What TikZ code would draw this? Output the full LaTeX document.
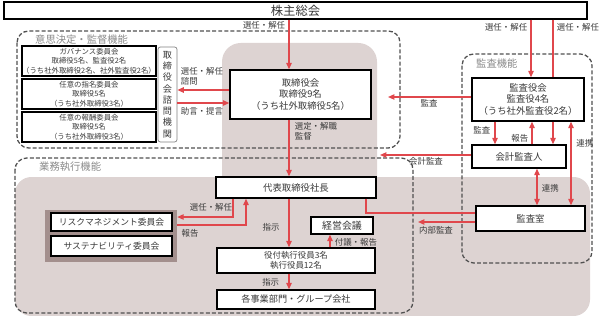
\documentclass[tikz,border=0pt]{standalone}
\usepackage{fontspec}
\setmainfont{Noto Sans CJK JP}
\usetikzlibrary{arrows.meta, positioning, calc}
\definecolor{redline}{HTML}{E0474C}
\definecolor{bgtaupe}{HTML}{DDD3D2}
\definecolor{dktaupe}{HTML}{A38F8D}
\definecolor{dashgray}{HTML}{505050}
\definecolor{lblgray}{HTML}{8A8A8A}
\definecolor{txtgray}{HTML}{3A3A3A}
\newlength\unitpx
\setlength\unitpx{0.03cm}
\newcommand\fsz[2]{\fontsize{#1}{#2}\selectfont}

\begin{document}
\begin{tikzpicture}[x=0.03cm, y=-0.03cm,
  box/.style={draw=black, line width=1.1pt, fill=white, text=txtgray, align=center,
    inner sep=0pt, font=\fsz{8}{9.5}},
  cmtbox/.style={box, minimum width=134\unitpx, minimum height=30\unitpx, font=\fsz{6.3}{8}},
  arr/.style={draw=redline, line width=1.1pt, -{Triangle[length=5.5pt, width=4.6pt]}},
  dbl/.style={draw=redline, line width=1.1pt,
    {Triangle[length=5.5pt, width=4.6pt]}-{Triangle[length=5.5pt, width=4.6pt]}},
  plain/.style={draw=redline, line width=1.1pt},
  lbl/.style={text=txtgray, font=\fsz{7.2}{8.4}, inner sep=0.5pt},
  region/.style={draw=dashgray, line width=1.1pt, dash pattern=on 3.4pt off 1.8pt, rounded corners=10pt},
  rlabel/.style={text=lblgray, font=\fsz{8.8}{10}, anchor=west, inner sep=0pt}]

\useasboundingbox (0,0) rectangle (599,316);

% Background
\fill[bgtaupe, rounded corners=16pt] (222,43) rectangle (377,195);
\fill[bgtaupe, rounded corners=14pt] (15,177) rectangle (590,316);

% Dashed regions
\draw[region] (17,31) rectangle (400,148);
\draw[region] (15,158) rectangle (413,313);
\draw[region] (462,54) rectangle (592,263);
\node[rlabel] (lbldecide) at (35,40) {意思決定・監督機能};
\node[rlabel] (lblexec) at (39,167) {業務執行機能};
\node[rlabel] (lblaudit) at (476,64) {監査機能};

% Helper rows and columns
\coordinate (colA) at (289,0);
\coordinate (x233) at (233,0);
\coordinate (x246) at (246,0);
\coordinate (x330) at (330,0);
\coordinate (x366) at (366,0);
\coordinate (x495) at (495,0);
\coordinate (x531) at (531,0);
\coordinate (x532) at (532,0);
\coordinate (x537) at (537,0);
\coordinate (x553) at (553,0);
\coordinate (x571) at (571,0);
\coordinate (y90) at (0,90);
\coordinate (y103) at (0,103);
\coordinate (y213) at (0,213);
\coordinate (y217) at (0,217);
\coordinate (y225) at (0,225);

% Shareholders
\node[box, minimum width=583\unitpx, minimum height=17\unitpx, font=\fsz{10.5}{12}] (soukai) at (295.5,10.5) {株主総会};

% Advisory committees
\node[cmtbox] (gov) at (89,61) {ガバナンス委員会\\取締役5名、監査役2名\\（うち社外取締役2名、社外監査役2名）};
\node[cmtbox] (nomi) at (89,94) {任意の指名委員会\\取締役5名\\（うち社外取締役3名）};
\node[cmtbox] (remu) at (89,127) {任意の報酬委員会\\取締役5名\\（うち社外取締役3名）};
\node[draw=gray, line width=0.6pt, rounded corners=2pt, fill=white, text=txtgray, align=center,
  inner sep=0pt, minimum width=19\unitpx, minimum height=95\unitpx, font=\fsz{7.8}{9.6}]
  (shimon) at (167.5,94.5) {取\\締\\役\\会\\諮\\問\\機\\関};

% Board
\node[box, minimum width=141\unitpx, minimum height=49\unitpx] (board) at (300.5,94.5) {取締役会\\取締役9名\\（うち社外取締役5名）};

% Audit side
\node[box, minimum width=112\unitpx, minimum height=43\unitpx] (kansayaku) at (528,99.5) {監査役会\\監査役4名\\（うち社外監査役2名）};
\node[box, minimum width=94\unitpx, minimum height=23\unitpx] (kaikei) at (519,156.5) {会計監査人};
\node[box, minimum width=109\unitpx, minimum height=25\unitpx] (kansashitsu) at (530.5,218.5) {監査室};

% Execution side
\node[box, minimum width=160\unitpx, minimum height=21\unitpx] (ceo) at (296,187.5) {代表取締役社長};
\node[box, minimum width=62\unitpx, minimum height=17\unitpx, font=\fsz{8.5}{10}] (keiei) at (342,225.5) {経営会議};
\node[box, minimum width=158\unitpx, minimum height=25\unitpx, font=\fsz{7.2}{9}] (yakuin) at (296,260.5) {役付執行役員3名\\執行役員12名};
\node[box, minimum width=158\unitpx, minimum height=19\unitpx, font=\fsz{7.8}{9}] (jigyo) at (296,299.5) {各事業部門・グループ会社};

% Risk / sustainability group
\node[fill=dktaupe, inner sep=0pt, minimum width=132\unitpx, minimum height=52\unitpx] (riskgrp) at (111,236) {};
\node[box, minimum width=121\unitpx, minimum height=18\unitpx, font=\fsz{7.5}{9}] (risk) at (111.5,222) {リスクマネジメント委員会};
\node[box, minimum width=121\unitpx, minimum height=20\unitpx, font=\fsz{7.5}{9}] (sust) at (111.5,246) {サステナビリティ委員会};

% Shareholders -> board
\draw[arr] (soukai.south -| colA) -- (board.north -| colA);
\node[lbl, anchor=east] (lblsel1) at (286,25) {選任・解任};

% Board <-> advisory body
\draw[arr] (board.west |- y90) -- (shimon.east |- y90);
\draw[arr] (shimon.east |- y103) -- (board.west |- y103);
\node[lbl, anchor=west, align=left] (lblask) at (180,76) {選任・解任\\諮問};
\node[lbl, anchor=west] (lbladv) at (180,111) {助言・提言};

% Board -> CEO
\draw[arr] (board.south -| colA) -- (ceo.north -| colA);
\node[lbl, anchor=west, align=left] (lblsup) at (294,131) {選定・解職\\監督};

% Shareholders -> auditors
\draw[arr] (soukai.south -| x531) -- (kansayaku.north -| x531);
\node[lbl, anchor=east] (lblsel2) at (528,27) {選任・解任};
\draw[plain] (soukai.south -| x553) -- (kansayaku.north -| x553);
\draw[arr] (kansayaku.south -| x553) -- (kaikei.north -| x553);
\node[lbl, anchor=west] (lblsel3) at (556,27) {選任・解任};

% Audits toward the board
\coordinate (aud1end) at (388,97);
\draw[arr] (kansayaku.west |- aud1end) -- (aud1end);
\node[lbl] (lblaud1) at (429,103) {監査};
\coordinate (aud2end) at (380,155);
\draw[arr] (kaikei.west |- aud2end) -- (aud2end);
\node[lbl] (lblaud2) at (426,161) {会計監査};

% Within audit function
\draw[arr] (kansayaku.south -| x495) -- (kaikei.north -| x495);
\node[lbl, anchor=east] (lblaud3) at (491,130) {監査};
\draw[arr] (kaikei.north -| x532) -- (kansayaku.south -| x532);
\node[lbl, anchor=east] (lblrep1) at (529,138) {報告};
\draw[dbl] (kansayaku.south -| x571) -- (kansashitsu.north -| x571);
\node[lbl, anchor=west] (lblcoop1) at (575.5,143) {連携};
\draw[dbl] (kaikei.south -| x537) -- (kansashitsu.north -| x537);
\node[lbl, anchor=west] (lblcoop2) at (541,188) {連携};

% CEO -- internal audit
\draw[plain] (ceo.south -| x366) |- (kansashitsu.west |- y213);
\coordinate (aud3end) at (418,222);
\draw[arr] (kansashitsu.west |- aud3end) -- (aud3end);
\node[lbl] (lblaud4) at (436,230) {内部監査};

% CEO <-> risk group
\draw[arr] (ceo.south -| x233) |- (riskgrp.east |- y217);
\node[lbl] (lblsel4) at (211,207) {選任・解任};
\draw[arr] (riskgrp.east |- y225) -| (ceo.south -| x246);
\node[lbl] (lblrep2) at (190,233) {報告};

% CEO -> executives -> divisions
\draw[arr] (ceo.south -| colA) -- (yakuin.north -| colA);
\node[lbl] (lblord1) at (271,227) {指示};
\draw[arr] (yakuin.north -| x330) -- (keiei.south -| x330);
\node[lbl, anchor=west] (lblrep3) at (334,242) {付議・報告};
\draw[arr] (yakuin.south -| colA) -- (jigyo.north -| colA);
\node[lbl, anchor=east] (lblord2) at (280,282) {指示};

\end{tikzpicture}
\end{document}
